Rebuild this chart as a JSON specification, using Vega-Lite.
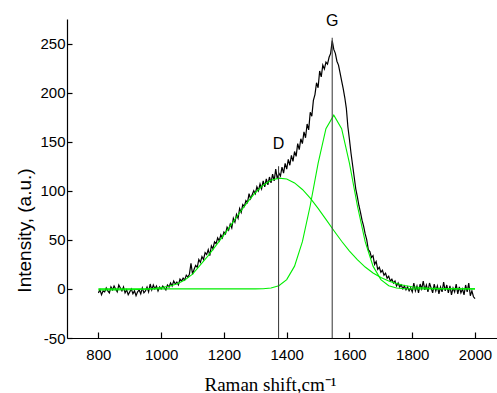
{
  "$schema": "https://vega.github.io/schema/vega-lite/v6.json",
  "width": 430,
  "height": 319,
  "autosize": {"type": "none"},
  "padding": {"left": 67, "top": 19, "right": 0, "bottom": 55},
  "background": "white",
  "config": {"view": {"stroke": null}, "axis": {"grid": false}},
  "datasets": {
    "spectrum": [
      {"shift": 800, "intensity": -4}, {"shift": 805, "intensity": -1}, {"shift": 810, "intensity": -6}, {"shift": 815, "intensity": -2}, {"shift": 820, "intensity": -3},
      {"shift": 825, "intensity": 1}, {"shift": 830, "intensity": -2}, {"shift": 835, "intensity": -4}, {"shift": 840, "intensity": 2}, {"shift": 845, "intensity": -1},
      {"shift": 850, "intensity": 3}, {"shift": 855, "intensity": 0}, {"shift": 860, "intensity": -3}, {"shift": 865, "intensity": 4}, {"shift": 870, "intensity": 1},
      {"shift": 875, "intensity": -2}, {"shift": 880, "intensity": 2}, {"shift": 885, "intensity": -4}, {"shift": 890, "intensity": -1}, {"shift": 895, "intensity": -6},
      {"shift": 900, "intensity": -3}, {"shift": 905, "intensity": 0}, {"shift": 910, "intensity": -5}, {"shift": 915, "intensity": -2}, {"shift": 920, "intensity": -7},
      {"shift": 925, "intensity": -3}, {"shift": 930, "intensity": -1}, {"shift": 935, "intensity": -5}, {"shift": 940, "intensity": 1}, {"shift": 945, "intensity": -4},
      {"shift": 950, "intensity": -2}, {"shift": 955, "intensity": 2}, {"shift": 960, "intensity": -3}, {"shift": 965, "intensity": 5}, {"shift": 970, "intensity": -1},
      {"shift": 975, "intensity": 4}, {"shift": 980, "intensity": 0}, {"shift": 985, "intensity": 3}, {"shift": 990, "intensity": -2}, {"shift": 995, "intensity": 2},
      {"shift": 1000, "intensity": 0}, {"shift": 1005, "intensity": 3}, {"shift": 1010, "intensity": 1}, {"shift": 1015, "intensity": -1}, {"shift": 1020, "intensity": 4},
      {"shift": 1025, "intensity": 2}, {"shift": 1030, "intensity": 6}, {"shift": 1035, "intensity": 3}, {"shift": 1040, "intensity": 8}, {"shift": 1045, "intensity": 5},
      {"shift": 1050, "intensity": 7}, {"shift": 1055, "intensity": 4}, {"shift": 1060, "intensity": 10}, {"shift": 1065, "intensity": 8}, {"shift": 1070, "intensity": 11},
      {"shift": 1075, "intensity": 9}, {"shift": 1080, "intensity": 14}, {"shift": 1085, "intensity": 12}, {"shift": 1090, "intensity": 15}, {"shift": 1095, "intensity": 26},
      {"shift": 1100, "intensity": 15}, {"shift": 1105, "intensity": 20}, {"shift": 1110, "intensity": 24}, {"shift": 1115, "intensity": 22}, {"shift": 1120, "intensity": 30},
      {"shift": 1125, "intensity": 27}, {"shift": 1130, "intensity": 33}, {"shift": 1135, "intensity": 30}, {"shift": 1140, "intensity": 37}, {"shift": 1145, "intensity": 35},
      {"shift": 1150, "intensity": 40}, {"shift": 1155, "intensity": 34}, {"shift": 1160, "intensity": 44}, {"shift": 1165, "intensity": 41}, {"shift": 1170, "intensity": 48},
      {"shift": 1175, "intensity": 46}, {"shift": 1180, "intensity": 52}, {"shift": 1185, "intensity": 49}, {"shift": 1190, "intensity": 55}, {"shift": 1195, "intensity": 52},
      {"shift": 1200, "intensity": 58}, {"shift": 1205, "intensity": 56}, {"shift": 1210, "intensity": 63}, {"shift": 1215, "intensity": 60}, {"shift": 1220, "intensity": 66},
      {"shift": 1225, "intensity": 62}, {"shift": 1230, "intensity": 72}, {"shift": 1235, "intensity": 68}, {"shift": 1240, "intensity": 76}, {"shift": 1245, "intensity": 72},
      {"shift": 1250, "intensity": 82}, {"shift": 1255, "intensity": 78}, {"shift": 1260, "intensity": 86}, {"shift": 1265, "intensity": 84}, {"shift": 1270, "intensity": 90},
      {"shift": 1275, "intensity": 88}, {"shift": 1280, "intensity": 97}, {"shift": 1285, "intensity": 92}, {"shift": 1290, "intensity": 96}, {"shift": 1295, "intensity": 100},
      {"shift": 1300, "intensity": 97}, {"shift": 1305, "intensity": 104}, {"shift": 1310, "intensity": 100}, {"shift": 1315, "intensity": 107}, {"shift": 1320, "intensity": 102},
      {"shift": 1325, "intensity": 110}, {"shift": 1330, "intensity": 104}, {"shift": 1335, "intensity": 112}, {"shift": 1340, "intensity": 106}, {"shift": 1345, "intensity": 114},
      {"shift": 1350, "intensity": 108}, {"shift": 1355, "intensity": 117}, {"shift": 1360, "intensity": 110}, {"shift": 1365, "intensity": 122}, {"shift": 1370, "intensity": 112},
      {"shift": 1375, "intensity": 118}, {"shift": 1380, "intensity": 115}, {"shift": 1385, "intensity": 124}, {"shift": 1390, "intensity": 118}, {"shift": 1395, "intensity": 128},
      {"shift": 1400, "intensity": 122}, {"shift": 1405, "intensity": 132}, {"shift": 1410, "intensity": 126}, {"shift": 1415, "intensity": 136}, {"shift": 1420, "intensity": 130},
      {"shift": 1425, "intensity": 140}, {"shift": 1430, "intensity": 135}, {"shift": 1435, "intensity": 148}, {"shift": 1440, "intensity": 142}, {"shift": 1445, "intensity": 153},
      {"shift": 1450, "intensity": 148}, {"shift": 1455, "intensity": 160}, {"shift": 1460, "intensity": 154}, {"shift": 1465, "intensity": 168}, {"shift": 1470, "intensity": 162},
      {"shift": 1475, "intensity": 180}, {"shift": 1480, "intensity": 176}, {"shift": 1485, "intensity": 192}, {"shift": 1490, "intensity": 198}, {"shift": 1495, "intensity": 210},
      {"shift": 1500, "intensity": 205}, {"shift": 1505, "intensity": 222}, {"shift": 1510, "intensity": 216}, {"shift": 1515, "intensity": 228}, {"shift": 1520, "intensity": 224},
      {"shift": 1525, "intensity": 231}, {"shift": 1530, "intensity": 229}, {"shift": 1535, "intensity": 236}, {"shift": 1540, "intensity": 240}, {"shift": 1545, "intensity": 253},
      {"shift": 1550, "intensity": 244}, {"shift": 1555, "intensity": 240}, {"shift": 1560, "intensity": 232}, {"shift": 1565, "intensity": 228}, {"shift": 1570, "intensity": 220},
      {"shift": 1575, "intensity": 212}, {"shift": 1580, "intensity": 204}, {"shift": 1585, "intensity": 195}, {"shift": 1590, "intensity": 184}, {"shift": 1595, "intensity": 165},
      {"shift": 1600, "intensity": 152}, {"shift": 1605, "intensity": 138}, {"shift": 1610, "intensity": 126}, {"shift": 1615, "intensity": 114}, {"shift": 1620, "intensity": 102},
      {"shift": 1625, "intensity": 94}, {"shift": 1630, "intensity": 85}, {"shift": 1635, "intensity": 78}, {"shift": 1640, "intensity": 70}, {"shift": 1645, "intensity": 64},
      {"shift": 1650, "intensity": 56}, {"shift": 1655, "intensity": 50}, {"shift": 1660, "intensity": 40}, {"shift": 1665, "intensity": 38}, {"shift": 1670, "intensity": 32},
      {"shift": 1675, "intensity": 34}, {"shift": 1680, "intensity": 25}, {"shift": 1685, "intensity": 28}, {"shift": 1690, "intensity": 20}, {"shift": 1695, "intensity": 22},
      {"shift": 1700, "intensity": 17}, {"shift": 1705, "intensity": 19}, {"shift": 1710, "intensity": 14}, {"shift": 1715, "intensity": 16}, {"shift": 1720, "intensity": 11},
      {"shift": 1725, "intensity": 13}, {"shift": 1730, "intensity": 8}, {"shift": 1735, "intensity": 10}, {"shift": 1740, "intensity": 6}, {"shift": 1745, "intensity": 8},
      {"shift": 1750, "intensity": 3}, {"shift": 1755, "intensity": 6}, {"shift": 1760, "intensity": 2}, {"shift": 1765, "intensity": 4}, {"shift": 1770, "intensity": 0},
      {"shift": 1775, "intensity": 3}, {"shift": 1780, "intensity": -1}, {"shift": 1785, "intensity": 2}, {"shift": 1790, "intensity": -2}, {"shift": 1795, "intensity": 1},
      {"shift": 1800, "intensity": -3}, {"shift": 1805, "intensity": 6}, {"shift": 1810, "intensity": -2}, {"shift": 1815, "intensity": 3}, {"shift": 1820, "intensity": -4},
      {"shift": 1825, "intensity": 5}, {"shift": 1830, "intensity": 0}, {"shift": 1835, "intensity": 8}, {"shift": 1840, "intensity": -1}, {"shift": 1845, "intensity": 4},
      {"shift": 1850, "intensity": -3}, {"shift": 1855, "intensity": 6}, {"shift": 1860, "intensity": 1}, {"shift": 1865, "intensity": -4}, {"shift": 1870, "intensity": 5},
      {"shift": 1875, "intensity": -2}, {"shift": 1880, "intensity": 3}, {"shift": 1885, "intensity": -5}, {"shift": 1890, "intensity": 2}, {"shift": 1895, "intensity": -3},
      {"shift": 1900, "intensity": 7}, {"shift": 1905, "intensity": -2}, {"shift": 1910, "intensity": 4}, {"shift": 1915, "intensity": -4}, {"shift": 1920, "intensity": 3},
      {"shift": 1925, "intensity": -6}, {"shift": 1930, "intensity": 1}, {"shift": 1935, "intensity": -3}, {"shift": 1940, "intensity": 5}, {"shift": 1945, "intensity": -5},
      {"shift": 1950, "intensity": 2}, {"shift": 1955, "intensity": -4}, {"shift": 1960, "intensity": 0}, {"shift": 1965, "intensity": -6}, {"shift": 1970, "intensity": 4},
      {"shift": 1975, "intensity": -3}, {"shift": 1980, "intensity": 6}, {"shift": 1985, "intensity": -7}, {"shift": 1990, "intensity": -2}, {"shift": 1995, "intensity": -8},
      {"shift": 2000, "intensity": -10}
    ],
    "fits": [
      {"component": "D", "shift": 800, "intensity": -1}, {"component": "D", "shift": 850, "intensity": -1}, {"component": "D", "shift": 900, "intensity": -0.8},
      {"component": "D", "shift": 950, "intensity": -0.3}, {"component": "D", "shift": 975, "intensity": 0.3}, {"component": "D", "shift": 1000, "intensity": 1.5},
      {"component": "D", "shift": 1025, "intensity": 2.8}, {"component": "D", "shift": 1050, "intensity": 5}, {"component": "D", "shift": 1075, "intensity": 9},
      {"component": "D", "shift": 1100, "intensity": 15}, {"component": "D", "shift": 1125, "intensity": 24.5}, {"component": "D", "shift": 1150, "intensity": 34},
      {"component": "D", "shift": 1175, "intensity": 44.4}, {"component": "D", "shift": 1200, "intensity": 55}, {"component": "D", "shift": 1225, "intensity": 66.3},
      {"component": "D", "shift": 1250, "intensity": 77.6}, {"component": "D", "shift": 1275, "intensity": 88.4}, {"component": "D", "shift": 1300, "intensity": 98},
      {"component": "D", "shift": 1325, "intensity": 105.7}, {"component": "D", "shift": 1350, "intensity": 110.8}, {"component": "D", "shift": 1375, "intensity": 112.9},
      {"component": "D", "shift": 1400, "intensity": 112}, {"component": "D", "shift": 1425, "intensity": 108}, {"component": "D", "shift": 1450, "intensity": 101.3},
      {"component": "D", "shift": 1475, "intensity": 92.5}, {"component": "D", "shift": 1500, "intensity": 82.1}, {"component": "D", "shift": 1525, "intensity": 70.9},
      {"component": "D", "shift": 1550, "intensity": 59.5}, {"component": "D", "shift": 1575, "intensity": 48.6}, {"component": "D", "shift": 1600, "intensity": 38.6},
      {"component": "D", "shift": 1625, "intensity": 29.8}, {"component": "D", "shift": 1650, "intensity": 22.3}, {"component": "D", "shift": 1675, "intensity": 16.3},
      {"component": "D", "shift": 1700, "intensity": 11.6}, {"component": "D", "shift": 1725, "intensity": 8}, {"component": "D", "shift": 1750, "intensity": 5.4},
      {"component": "D", "shift": 1775, "intensity": 3.5}, {"component": "D", "shift": 1800, "intensity": 2.2}, {"component": "D", "shift": 1825, "intensity": 1.4},
      {"component": "D", "shift": 1850, "intensity": 0.8}, {"component": "D", "shift": 1900, "intensity": 0.3}, {"component": "D", "shift": 1950, "intensity": 0.1},
      {"component": "D", "shift": 2000, "intensity": 0},
      {"component": "G", "shift": 800, "intensity": 0}, {"component": "G", "shift": 1000, "intensity": 0}, {"component": "G", "shift": 1200, "intensity": 0},
      {"component": "G", "shift": 1300, "intensity": 0}, {"component": "G", "shift": 1325, "intensity": 0.2}, {"component": "G", "shift": 1350, "intensity": 1},
      {"component": "G", "shift": 1375, "intensity": 3.3}, {"component": "G", "shift": 1400, "intensity": 9.5}, {"component": "G", "shift": 1425, "intensity": 23.2},
      {"component": "G", "shift": 1450, "intensity": 48.1}, {"component": "G", "shift": 1475, "intensity": 85}, {"component": "G", "shift": 1500, "intensity": 127.9},
      {"component": "G", "shift": 1525, "intensity": 163.2}, {"component": "G", "shift": 1550, "intensity": 177}, {"component": "G", "shift": 1575, "intensity": 163.2},
      {"component": "G", "shift": 1600, "intensity": 127.9}, {"component": "G", "shift": 1625, "intensity": 85}, {"component": "G", "shift": 1650, "intensity": 48.1},
      {"component": "G", "shift": 1675, "intensity": 23.2}, {"component": "G", "shift": 1700, "intensity": 9.5}, {"component": "G", "shift": 1725, "intensity": 3.3},
      {"component": "G", "shift": 1750, "intensity": 1}, {"component": "G", "shift": 1775, "intensity": 0.2}, {"component": "G", "shift": 1800, "intensity": 0},
      {"component": "G", "shift": 1900, "intensity": 0}, {"component": "G", "shift": 2000, "intensity": 0}
    ],
    "bands": [
      {"band": "D", "shift": 1374, "bottom": -50, "top": 125, "labelY": 148},
      {"band": "G", "shift": 1545, "bottom": -50, "top": 256, "labelY": 273}
    ]
  },
  "layer": [
    {
      "data": {"name": "spectrum"},
      "mark": {"type": "line", "color": "black", "strokeWidth": 1.2, "clip": true},
      "encoding": {
        "x": {
          "field": "shift", "type": "quantitative",
          "scale": {"domain": [700, 2070], "nice": false, "zero": false},
          "axis": {
            "values": [800, 900, 1000, 1100, 1200, 1300, 1400, 1500, 1600, 1700, 1800, 1900, 2000],
            "format": "d",
            "labelOverlap": false, "labelFlush": false, "labelBound": false,
            "labelOpacity": {"condition": {"test": "datum.value % 200 !== 0", "value": 0}, "value": 1},
            "domainColor": "black", "domainWidth": 1.2,
            "tickColor": "black", "tickWidth": 1.2,
            "tickSize": -6,
            "labelPadding": 15,
            "labelFont": "Liberation Sans", "labelFontSize": 15, "labelColor": "black",
            "title": "Raman shift,cm⁻¹",
            "titleFont": "Liberation Serif", "titleFontSize": 19, "titleFontWeight": "normal", "titleColor": "black",
            "titleX": 203, "titleY": 52, "titleBaseline": "alphabetic", "titleAlign": "center"
          }
        },
        "y": {
          "field": "intensity", "type": "quantitative",
          "scale": {"domain": [-50, 275], "nice": false, "zero": false},
          "axis": {
            "values": [-50, -25, 0, 25, 50, 75, 100, 125, 150, 175, 200, 225, 250, 275],
            "labelExpr": "datum.value % 50 === 0 ? '' + datum.value : ''",
            "labelOverlap": false, "labelFlush": false, "labelBound": false,
            "domainColor": "black", "domainWidth": 1.2,
            "tickColor": "black", "tickWidth": 1.2,
            "tickSize": {"condition": {"test": "datum.value % 50 === 0", "value": -5}, "value": -3},
            "labelPadding": 7,
            "labelFont": "Liberation Sans", "labelFontSize": 15, "labelColor": "black",
            "title": "Intensity, (a.u.)",
            "titleFont": "Liberation Sans", "titleFontSize": 19, "titleFontWeight": "normal", "titleColor": "black",
            "titleX": -43, "titleY": 211, "titleBaseline": "middle", "titleAlign": "center", "titleAngle": -90
          }
        }
      }
    },
    {
      "data": {"name": "fits"},
      "mark": {"type": "line", "color": "#00ee00", "strokeWidth": 1.1, "clip": true},
      "encoding": {
        "x": {"field": "shift", "type": "quantitative"},
        "y": {"field": "intensity", "type": "quantitative"},
        "detail": {"field": "component"}
      }
    },
    {
      "data": {"name": "bands"},
      "mark": {"type": "rule", "color": "#444444", "strokeWidth": 1.1},
      "encoding": {
        "x": {"field": "shift", "type": "quantitative"},
        "y": {"field": "bottom", "type": "quantitative"},
        "y2": {"field": "top"}
      }
    },
    {
      "data": {"name": "bands"},
      "mark": {"type": "text", "font": "Liberation Sans", "fontSize": 16, "color": "black", "baseline": "middle", "align": "center"},
      "encoding": {
        "x": {"field": "shift", "type": "quantitative"},
        "y": {"field": "labelY", "type": "quantitative"},
        "text": {"field": "band"}
      }
    }
  ]
}
